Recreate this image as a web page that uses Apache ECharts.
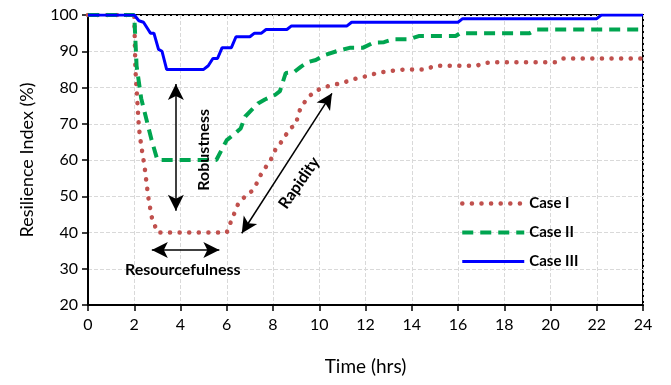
<html>
<head>
<meta charset="UTF-8">
<script src="https://cdn.jsdelivr.net/npm/echarts@6/dist/echarts.min.js"></script>
</head>
<body style="margin:0">
<div id="chart" style="width:671px;height:385px;"></div>
<script type="text/javascript">
// time (hrs), resilience index (%)
var caseI = [[0,100],[2,100],[2.05,85],[2.2,69],[2.3,64],[2.45,58],[2.6,50],[2.75,44.4],[3.0,40],[6.0,40],[6.2,43.3],[6.5,48],[6.85,50.3],[7.1,51.5],[7.3,53.6],[7.5,56.3],[7.9,60],[8.1,62.8],[8.3,64.4],[8.5,66.4],[8.75,68.7],[9.0,70],[9.1,72.9],[9.25,75],[9.55,77.5],[9.85,79.1],[10.2,80],[10.55,80.7],[11.0,81.2],[11.35,82.1],[11.75,82.7],[12.1,83.2],[12.55,84.1],[12.95,84.4],[13.35,84.8],[13.8,85],[14.6,85],[15.0,86],[16.8,86],[17.1,86.7],[17.5,87],[20.2,87],[20.5,88],[24,88]];
var caseII = [[0,100],[2,100],[2.1,86],[2.3,77],[2.75,65.5],[3.0,60],[5.55,60],[6.0,65.5],[6.3,67],[6.6,68.7],[6.8,72],[7.35,75.6],[7.65,76.7],[8.1,78],[8.3,79],[8.55,84],[8.9,84.2],[9.2,85.7],[9.5,87],[9.85,87.6],[10.25,89],[10.75,90],[11.35,91],[11.9,91],[12.35,92.4],[12.8,92.5],[13.2,93.3],[13.9,93.3],[14.3,94.2],[15.9,94.2],[16.1,95],[19.1,95],[19.4,96],[24,96]];
var caseIII = [[0,100],[2,100],[2.2,98.4],[2.4,98],[2.6,96],[2.7,95],[2.85,95],[3.05,90.5],[3.2,90],[3.4,85],[5.0,85],[5.2,86],[5.4,88],[5.6,88],[5.8,91],[6.2,91],[6.4,94],[7.0,94],[7.2,95],[7.5,95],[7.7,96],[8.6,96],[8.8,97],[11.2,97],[11.4,98],[16,98],[16.2,99],[22,99],[22.2,100],[24,100]];
var seriesNames = ['Case I', 'Case II', 'Case III'];
// annotation texts: [time, value, text, rotation]
var notes = [[5.0, 62.8, 'Robustness', 90], [4.1, 29.7, 'Resourcefulness', 0], [9.13, 53.7, 'Rapidity', 55]];
// double headed arrows, [[t1,v1],[t2,v2]]
var arrows = [[[3.8, 81], [3.8, 46]], [[2.76, 35.2], [5.68, 35.2]], [[6.65, 39.8], [10.55, 78.4]]];

var font = 'Lato, "Open Sans", sans-serif';
var styles = [
  { color: '#c0504d', width: 4.5, type: [0.1, 9.5], cap: 'round' },
  { color: '#00a550', width: 4, type: [11, 7] },
  { color: '#0000ff', width: 3, type: 'solid' }
];
var chart = echarts.init(document.getElementById('chart'));
chart.setOption({
  animation: false,
  textStyle: { fontFamily: font },
  grid: { left: 88, right: 28, top: 15, bottom: 80, show: true, borderColor: '#000', borderWidth: 2 },
  legend: {
    data: seriesNames.map(function (n, i) { return { name: n, lineStyle: styles[i] }; }),
    orient: 'vertical',
    left: 455,
    top: 191,
    itemWidth: 62,
    itemHeight: 10,
    itemGap: 14,
    itemStyle: { opacity: 0 },
    textStyle: { fontFamily: font, fontSize: 15, fontWeight: 'bold', color: '#000' }
  },
  xAxis: {
    type: 'value',
    min: 0, max: 24, interval: 2,
    name: 'Time (hrs)',
    nameLocation: 'middle',
    nameGap: 52,
    nameTextStyle: { fontSize: 19, color: '#000', fontFamily: font },
    axisLine: { lineStyle: { color: '#000', width: 2 } },
    axisTick: { show: true, length: 6, lineStyle: { color: '#000', width: 1.5 } },
    axisLabel: { fontSize: 16, color: '#000', margin: 12 },
    splitLine: { show: true, lineStyle: { color: '#d9d9d9', type: 'dashed' } }
  },
  yAxis: {
    type: 'value',
    min: 20, max: 100, interval: 10,
    name: 'Resilience Index (%)',
    nameLocation: 'middle',
    nameGap: 52,
    nameTextStyle: { fontSize: 18, color: '#000', fontFamily: font },
    axisLine: { show: true, lineStyle: { color: '#000', width: 2 } },
    axisTick: { show: true, length: 6, lineStyle: { color: '#000', width: 1.5 } },
    axisLabel: { fontSize: 16, color: '#000', margin: 10 },
    splitLine: { show: true, lineStyle: { color: '#d9d9d9', type: 'dashed' } }
  },
  series: [
    { name: 'Case I', type: 'line', data: caseI, symbol: 'none', lineStyle: styles[0], itemStyle: { color: styles[0].color } },
    { name: 'Case II', type: 'line', data: caseII, symbol: 'none', lineStyle: styles[1], itemStyle: { color: styles[1].color } },
    { name: 'Case III', type: 'line', data: caseIII, symbol: 'none', lineStyle: styles[2], itemStyle: { color: styles[2].color } },
    {
      name: 'notes', type: 'scatter', symbolSize: 0, silent: true, z: 5,
      itemStyle: { opacity: 1 },
      data: notes.map(function (n) {
        return { value: [n[0], n[1]], label: { show: true, position: 'inside', formatter: n[2], rotate: n[3],
          color: '#000', fontSize: 16, fontWeight: 'bold', fontFamily: font, textBorderWidth: 0 } };
      }),
      markLine: {
        silent: true,
        symbol: ['arrow', 'arrow'],
        symbolSize: [12, 16],
        label: { show: false },
        lineStyle: { color: '#000', width: 1.5, type: 'solid', opacity: 1 },
        data: arrows.map(function (a) {
          return [{ coord: a[0] }, { coord: a[1] }];
        })
      }
    }
  ]
});
</script>
</body>
</html>
